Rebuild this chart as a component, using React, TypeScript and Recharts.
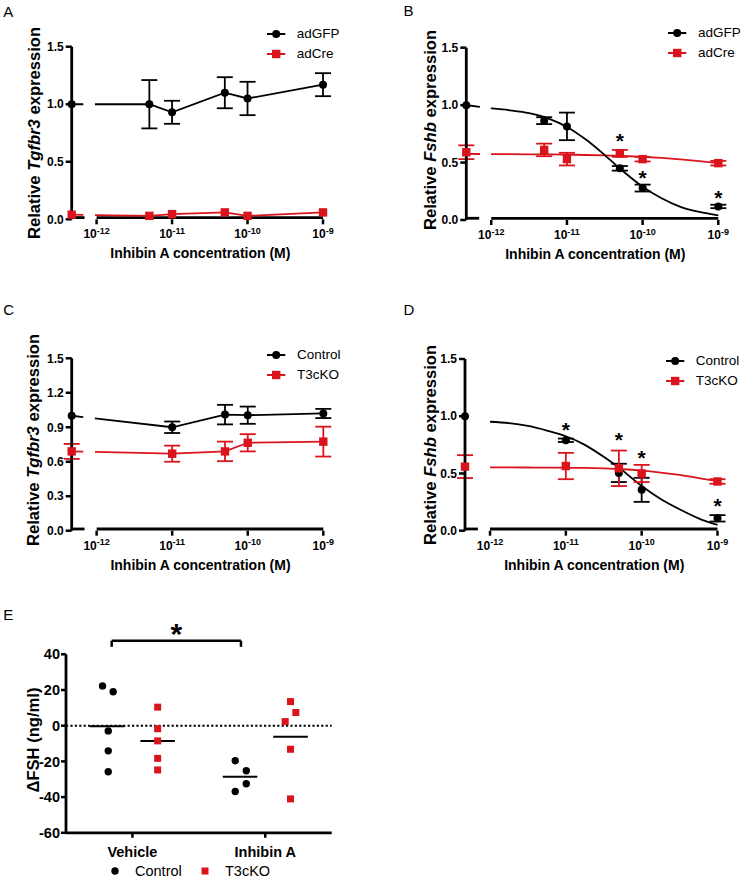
import React from 'react';
import { LineChart, Line, XAxis, YAxis, ErrorBar, ReferenceLine, ReferenceDot, Legend, Label } from 'recharts';

const FONT = '"Liberation Sans", Arial, Helvetica, sans-serif';
const BLACK = '#000000';
const RED = '#d9141c';

// ---------- shared concentration axis ----------
// axis unit = decades above 1e-13 M (1e-12 -> 1, 1e-9 -> 4); the vehicle control sits left of the axis break
const LOG_ORIGIN = -13;
const CONTROL_POS = 0.67;
const BREAK_END = 0.84;
const logTicks = [1, 2, 3, 4];
const AXIS_LEVEL = 0.015;

// ---------- Panel A : Tgfbr3, adGFP vs adCre ----------
const concA = [0, 5e-12, 1e-11, 5e-11, 1e-10, 1e-9];
const tgfbr3AdGFP = [1.0, 1.0, 0.93, 1.1, 1.05, 1.17];
const tgfbr3AdGFPSem = [0, 0.21, 0.1, 0.135, 0.145, 0.1];
const tgfbr3AdCre = [0.04, 0.03, 0.045, 0.06, 0.03, 0.06];
const tgfbr3AdCreSem = [0, 0, 0, 0, 0, 0];

// ---------- Panel B : Fshb, adGFP vs adCre ----------
const concB = [0, 5e-12, 1e-11, 5e-11, 1e-10, 1e-9];
const fshbAdGFP = [1.0, 0.865, 0.815, 0.45, 0.278, 0.118];
const fshbAdGFPSem = [0, 0.03, 0.12, 0.02, 0.03, 0.015];
const fshbAdCre = [0.59, 0.61, 0.53, 0.58, 0.53, 0.495];
const fshbAdCreSem = [0.06, 0.055, 0.055, 0.03, 0.02, 0.02];
const fitConcB = [0, 1e-12, 1.78e-12, 3.16e-12, 5.62e-12, 1e-11, 1.78e-11, 3.16e-11, 5.62e-11, 1e-10, 1.78e-10, 3.16e-10, 5.62e-10, 1e-9];
const fitAdGFPB = [1.0, 0.972, 0.955, 0.93, 0.885, 0.81, 0.7, 0.565, 0.42, 0.29, 0.19, 0.115, 0.07, 0.04];
const fitAdCreB = [0.575, 0.574, 0.573, 0.572, 0.571, 0.569, 0.566, 0.562, 0.557, 0.55, 0.54, 0.527, 0.512, 0.495];
const starConcB = [5e-11, 1e-10, 1e-9];
const starLevelB = [0.725, 0.405, 0.232];

// ---------- Panel C : Tgfbr3, Control vs T3cKO ----------
const concC = [0, 1e-11, 5e-11, 1e-10, 1e-9];
const tgfbr3Control = [1.0, 0.9, 1.01, 1.005, 1.02];
const tgfbr3ControlSem = [0, 0.05, 0.085, 0.075, 0.04];
const tgfbr3T3cKO = [0.69, 0.67, 0.69, 0.765, 0.775];
const tgfbr3T3cKOSem = [0.065, 0.07, 0.085, 0.075, 0.13];

// ---------- Panel D : Fshb, Control vs T3cKO ----------
const concD = [0, 1e-11, 5e-11, 1e-10, 1e-9];
const fshbControl = [1.0, 0.79, 0.505, 0.357, 0.108];
const fshbControlSem = [0, 0.015, 0.08, 0.105, 0.028];
const fshbT3cKO = [0.56, 0.565, 0.545, 0.5, 0.43];
const fshbT3cKOSem = [0.1, 0.115, 0.155, 0.075, 0.02];
const fitConcD = [1e-12, 1.78e-12, 3.16e-12, 5.62e-12, 1e-11, 1.78e-11, 3.16e-11, 5.62e-11, 1e-10, 1.78e-10, 3.16e-10, 5.62e-10, 1e-9];
const fitControlD = [0.952, 0.94, 0.915, 0.875, 0.825, 0.75, 0.645, 0.525, 0.39, 0.277, 0.187, 0.108, 0.05];
const fitT3cKOD = [0.553, 0.553, 0.552, 0.551, 0.55, 0.548, 0.544, 0.537, 0.525, 0.508, 0.487, 0.46, 0.432];
const starConcD = [1e-11, 5e-11, 1e-10, 1e-9];
const starLevelD = [0.925, 0.832, 0.677, 0.254];

// ---------- Panel E : delta FSH ----------
const categoriesE = ['Vehicle', 'Inhibin A'];
const groupsE = ['Control', 'T3cKO'];
const dFshVehicleControl = [22.3, 19.0, -2.9, -14.1, -25.8];
const dFshVehicleT3cKO = [10.4, -1.7, -8.5, -18.3, -24.8];
const dFshInhibinControl = [-19.6, -25.2, -32.5, -36.9];
const dFshInhibinT3cKO = [13.5, 7.4, 2.3, -13.2, -41.0];
const jitterVehicleControl = [-0.035, 0.045, 0.008, 0.008, 0.008];
const jitterVehicleT3cKO = [0, 0, 0, 0, 0];
const jitterInhibinControl = [-0.036, 0.047, 0.047, -0.036];
const jitterInhibinT3cKO = [0, 0.04, -0.04, 0, 0];

// ---------- helpers ----------
const toAxisPos = (c: number) => (c === 0 ? CONTROL_POS : Math.log10(c) - LOG_ORIGIN);
const toPoints = (conc: number[], mean: number[], sem: number[]) =>
  conc.map((c, i) => ({ x: toAxisPos(c), y: mean[i], e: sem[i] > 0 ? sem[i] : null }));
const toCurve = (conc: number[], ys: number[]) => conc.map((c, i) => ({ x: toAxisPos(c), y: ys[i] }));
const toStars = (conc: number[], lv: number[]) => conc.map((c, i) => ({ x: toAxisPos(c), y: lv[i] }));
const meanOf = (a: number[]) => a.reduce((s, v) => s + v, 0) / a.length;

const circleDot = (r: number, fill: string) => (p: any) => {
  if (p.cx == null || p.cy == null || isNaN(p.cx) || isNaN(p.cy)) return <g key={`n-${p.index}`} />;
  return <circle key={`c-${p.index}`} cx={p.cx} cy={p.cy} r={r} fill={fill} stroke="none" />;
};
const squareDot = (s: number, fill: string) => (p: any) => {
  if (p.cx == null || p.cy == null || isNaN(p.cx) || isNaN(p.cy)) return <g key={`n-${p.index}`} />;
  return <rect key={`s-${p.index}`} x={p.cx - s / 2} y={p.cy - s / 2} width={s} height={s} fill={fill} stroke="none" />;
};
const starShape = (fs: number) => (p: any) => (
  <text x={p.cx} y={p.cy} dy={fs * 0.56} textAnchor="middle" fontSize={fs} fontWeight={700} fontFamily={FONT} fill={BLACK}>
    *
  </text>
);

const LogTick = (props: any) => {
  const { x, y, payload } = props;
  return (
    <text x={x} y={y + 12} textAnchor="middle" fontFamily={FONT} fontWeight={700} fontSize={12} fill={BLACK}>
      <tspan>10</tspan>
      <tspan fontSize={9} dy={-4.5}>{String(Math.round(payload.value + LOG_ORIGIN))}</tspan>
    </text>
  );
};

const CatTick = (props: any) => {
  const { x, y, payload } = props;
  const label = categoriesE[Math.round(payload.value - 0.5)];
  return (
    <text x={x} y={y + 17.4} textAnchor="middle" fontFamily={FONT} fontWeight={700} fontSize={14.5} fill={BLACK}>
      {label}
    </text>
  );
};

const YTitle = (props: any) => {
  const { tx, ty, gene, plain } = props;
  return (
    <text x={tx} y={ty} transform={`rotate(-90 ${tx} ${ty})`} textAnchor="middle" fontFamily={FONT} fontWeight={700} fontSize={16.6} fill={BLACK}>
      {plain ? (
        plain
      ) : (
        <>
          <tspan>{'Relative '}</tspan>
          <tspan fontStyle="italic">{gene}</tspan>
          <tspan>{' expression'}</tspan>
        </>
      )}
    </text>
  );
};

const XTitle = (props: any) => {
  const { tx, ty } = props;
  return (
    <text x={tx} y={ty} textAnchor="middle" fontFamily={FONT} fontWeight={700} fontSize={14} fill={BLACK}>
      Inhibin A concentration (M)
    </text>
  );
};

const SeriesLegend = (props: any) => {
  const { items } = props;
  return (
    <div style={{ fontFamily: FONT, fontSize: 13.5, color: BLACK }}>
      {items.map((it: any) => (
        <div key={it.label} style={{ display: 'flex', alignItems: 'center', height: 20 }}>
          <svg width={30} height={12} style={{ flex: 'none', display: 'block' }}>
            <line x1={0} y1={6} x2={18.3} y2={6} stroke={it.color} strokeWidth={2} />
            {it.shape === 'circle' ? (
              <circle cx={9.2} cy={6} r={4} fill={it.color} />
            ) : (
              <rect x={5} y={1.8} width={8.4} height={8.4} fill={it.color} />
            )}
          </svg>
          <span style={{ lineHeight: '20px', whiteSpace: 'nowrap' }}>{it.label}</span>
        </div>
      ))}
    </div>
  );
};

type Group = { pts: any[]; color: string; shape: 'circle' | 'square'; connected: boolean; name: string };

function DosePanel(props: {
  left: number; top: number; width: number; height: number;
  plot: { l: number; r: number; t: number; b: number };
  xAxisH: number;
  yTicks: number[];
  gene: string;
  yTitle: { x: number; y: number };
  legend: { left: number; top: number };
  groups: Group[];
  curves: { pts: any[]; color: string }[];
  dash?: string;
  stars: { x: number; y: number }[];
}) {
  const { left, top, width, height, plot, xAxisH, yTicks, gene, yTitle, legend, groups, curves, dash, stars } = props;
  const margin = { top: plot.t, right: width - plot.r, bottom: height - plot.b - xAxisH, left: 0 };
  const items = groups.map((g) => ({ label: g.name, color: g.color, shape: g.shape }));
  return (
    <div style={{ position: 'absolute', left, top, width, height }}>
      <LineChart width={width} height={height} margin={margin} style={{ fontFamily: FONT }}>
        <XAxis
          type="number"
          dataKey="x"
          domain={[CONTROL_POS, 4]}
          ticks={logTicks}
          stroke={BLACK}
          axisLine={false}
          tickLine={{ stroke: BLACK, strokeWidth: 2.5 }}
          tickSize={5}
          height={xAxisH}
          tick={<LogTick />}
          interval={0}
        />
        <YAxis
          type="number"
          domain={[0, 1.5]}
          ticks={yTicks}
          width={plot.l}
          stroke={BLACK}
          axisLine={{ stroke: BLACK, strokeWidth: 2.8 }}
          tickLine={{ stroke: BLACK, strokeWidth: 2.5 }}
          tickSize={6}
          tickFormatter={(v: number) => v.toFixed(1)}
          tick={{ fill: BLACK, fontSize: 12, fontWeight: 700, fontFamily: FONT }}
          interval={0}
        >
          <Label content={<YTitle tx={yTitle.x} ty={yTitle.y} gene={gene} />} />
          <Label content={<XTitle tx={(plot.l + plot.r) / 2 + 3} ty={plot.b + 39} />} />
        </YAxis>
        <Line
          data={[{ x: CONTROL_POS, y: AXIS_LEVEL }, { x: BREAK_END, y: AXIS_LEVEL }]}
          dataKey="y"
          stroke={BLACK}
          strokeWidth={2.8}
          dot={false}
          activeDot={false}
          legendType="none"
          isAnimationActive={false}
        />
        <Line
          data={[{ x: 1, y: AXIS_LEVEL }, { x: 4, y: AXIS_LEVEL }]}
          dataKey="y"
          stroke={BLACK}
          strokeWidth={2.8}
          dot={false}
          activeDot={false}
          legendType="none"
          isAnimationActive={false}
        />
        {curves.map((c, i) => (
          <Line
            key={`curve-${i}`}
            data={c.pts}
            dataKey="y"
            type="monotone"
            stroke={c.color}
            strokeWidth={1.8}
            strokeDasharray={dash}
            dot={false}
            activeDot={false}
            legendType="none"
            isAnimationActive={false}
          />
        ))}
        {groups.map((g, i) => (
          <Line
            key={`grp-${i}`}
            name={g.name}
            data={g.pts}
            dataKey="y"
            type="linear"
            stroke={g.connected ? g.color : 'none'}
            strokeWidth={1.8}
            strokeDasharray={g.connected ? dash : undefined}
            dot={g.shape === 'circle' ? circleDot(4, g.color) : squareDot(8.4, g.color)}
            activeDot={false}
            isAnimationActive={false}
          >
            <ErrorBar dataKey="e" width={8} strokeWidth={1.8} stroke={g.color} direction="y" />
          </Line>
        ))}
        {stars.map((s, i) => (
          <ReferenceDot key={`star-${i}`} x={s.x} y={s.y} r={0} ifOverflow="visible" shape={starShape(21)} />
        ))}
        <Legend
          layout="vertical"
          align="center"
          verticalAlign="middle"
          wrapperStyle={{ left: legend.left, top: legend.top, width: 90, height: 40 }}
          content={() => <SeriesLegend items={items} />}
        />
      </LineChart>
    </div>
  );
}

const PanelLetter = ({ text, x, baseline }: { text: string; x: number; baseline: number }) => (
  <div style={{ position: 'absolute', left: x, top: baseline - 12.7, fontFamily: FONT, fontSize: 15, lineHeight: '15px', color: BLACK }}>
    {text}
  </div>
);

function PanelE() {
  const width = 371;
  const height = 299;
  const plot = { l: 66, r: 331.7, t: 74.3, b: 252.8 };
  const xAxisH = 30;
  const margin = { top: plot.t, right: width - plot.r, bottom: height - plot.b - xAxisH, left: 0 };
  const ctrlOff = -0.19;
  const koOff = 0.19;
  const mk = (vals: number[], jit: number[], center: number) => vals.map((v, i) => ({ x: center + jit[i], y: v }));
  const vc = mk(dFshVehicleControl, jitterVehicleControl, 0.5 + ctrlOff);
  const vk = mk(dFshVehicleT3cKO, jitterVehicleT3cKO, 0.5 + koOff);
  const ic = mk(dFshInhibinControl, jitterInhibinControl, 1.5 + ctrlOff);
  const ik = mk(dFshInhibinT3cKO, jitterInhibinT3cKO, 1.5 + koOff);
  const means = [
    { c: 0.5 + ctrlOff, m: meanOf(dFshVehicleControl) },
    { c: 0.5 + koOff, m: meanOf(dFshVehicleT3cKO) },
    { c: 1.5 + ctrlOff, m: meanOf(dFshInhibinControl) },
    { c: 1.5 + koOff, m: meanOf(dFshInhibinT3cKO) },
  ];
  const hw = 0.13;
  const br = { from: 0.344, to: 1.317, top: 47.6, leg: 44.2, star: 55.4 };
  return (
    <div style={{ position: 'absolute', left: 0, top: 580, width, height }}>
      <LineChart width={width} height={height} margin={margin} style={{ fontFamily: FONT }}>
        <XAxis
          type="number"
          dataKey="x"
          domain={[0, 2]}
          ticks={[0.5, 1.5]}
          stroke={BLACK}
          axisLine={{ stroke: BLACK, strokeWidth: 2.8 }}
          tickLine={{ stroke: BLACK, strokeWidth: 2.5 }}
          tickSize={5}
          height={xAxisH}
          tick={<CatTick />}
          interval={0}
        />
        <YAxis
          type="number"
          domain={[-60, 40]}
          ticks={[-60, -40, -20, 0, 20, 40]}
          width={plot.l}
          stroke={BLACK}
          axisLine={{ stroke: BLACK, strokeWidth: 2.8 }}
          tickLine={{ stroke: BLACK, strokeWidth: 2.5 }}
          tickSize={5}
          tickMargin={1}
          tick={{ fill: BLACK, fontSize: 14.5, fontWeight: 700, fontFamily: FONT }}
          interval={0}
          label={<YTitle tx={39} ty={160} plain={'\u0394FSH (ng/ml)'} />}
        />
        <ReferenceLine y={0} stroke={BLACK} strokeWidth={2} strokeDasharray="2.2 2.2" />
        {means.map((mm, i) => (
          <ReferenceLine key={`mean-${i}`} segment={[{ x: mm.c - hw, y: mm.m }, { x: mm.c + hw, y: mm.m }]} stroke={BLACK} strokeWidth={2} ifOverflow="visible" />
        ))}
        <ReferenceLine segment={[{ x: br.from, y: br.top }, { x: br.to, y: br.top }]} stroke={BLACK} strokeWidth={2.5} ifOverflow="visible" />
        <ReferenceLine segment={[{ x: br.from, y: br.top }, { x: br.from, y: br.leg }]} stroke={BLACK} strokeWidth={2.5} ifOverflow="visible" />
        <ReferenceLine segment={[{ x: br.to, y: br.top }, { x: br.to, y: br.leg }]} stroke={BLACK} strokeWidth={2.5} ifOverflow="visible" />
        <ReferenceDot x={(br.from + br.to) / 2} y={br.star} r={0} ifOverflow="visible" shape={starShape(30)} />
        <Line data={vc} dataKey="y" stroke="none" dot={circleDot(3.7, BLACK)} activeDot={false} isAnimationActive={false} name={groupsE[0]} />
        <Line data={vk} dataKey="y" stroke="none" dot={squareDot(7, RED)} activeDot={false} isAnimationActive={false} name={groupsE[1]} />
        <Line data={ic} dataKey="y" stroke="none" dot={circleDot(3.7, BLACK)} activeDot={false} isAnimationActive={false} legendType="none" />
        <Line data={ik} dataKey="y" stroke="none" dot={squareDot(7, RED)} activeDot={false} isAnimationActive={false} legendType="none" />
        <Legend
          layout="vertical"
          align="center"
          verticalAlign="middle"
          wrapperStyle={{ left: 111, top: 280.7, width: 200, height: 20 }}
          content={() => (
            <div style={{ position: 'relative', width: 200, height: 20, fontFamily: FONT, fontSize: 14.5, color: BLACK }}>
              <svg width={8} height={8} style={{ position: 'absolute', left: 0, top: 6, display: 'block' }}>
                <circle cx={4} cy={4} r={3.7} fill={BLACK} />
              </svg>
              <span style={{ position: 'absolute', left: 24, top: 0, lineHeight: '20px', whiteSpace: 'nowrap' }}>{groupsE[0]}</span>
              <svg width={8} height={8} style={{ position: 'absolute', left: 89.5, top: 6, display: 'block' }}>
                <rect x={0.5} y={0.5} width={7} height={7} fill={RED} />
              </svg>
              <span style={{ position: 'absolute', left: 114, top: 0, lineHeight: '20px', whiteSpace: 'nowrap' }}>{groupsE[1]}</span>
            </div>
          )}
        />
      </LineChart>
    </div>
  );
}

export default function App() {
  const ticks15 = [0, 0.5, 1.0, 1.5];
  const ticks03 = [0, 0.3, 0.6, 0.9, 1.2, 1.5];
  return (
    <div style={{ position: 'absolute', left: 0, top: 0, width: 742, height: 879, background: '#ffffff', fontFamily: FONT, overflow: 'hidden' }}>
      <DosePanel
        left={0} top={0} width={371} height={290}
        plot={{ l: 71.7, r: 323, t: 46.7, b: 219.3 }}
        xAxisH={50}
        yTicks={ticks15}
        gene="Tgfbr3"
        yTitle={{ x: 40, y: 133 }}
        legend={{ left: 266.7, top: 24.3 }}
        groups={[
          { name: 'adGFP', pts: toPoints(concA, tgfbr3AdGFP, tgfbr3AdGFPSem), color: BLACK, shape: 'circle', connected: true },
          { name: 'adCre', pts: toPoints(concA, tgfbr3AdCre, tgfbr3AdCreSem), color: RED, shape: 'square', connected: true },
        ]}
        curves={[]}
        dash="11.6 11.7 4000"
        stars={[]}
      />
      <DosePanel
        left={371} top={0} width={371} height={290}
        plot={{ l: 95.3, r: 347.3, t: 47.7, b: 220 }}
        xAxisH={50}
        yTicks={ticks15}
        gene="Fshb"
        yTitle={{ x: 65, y: 130 }}
        legend={{ left: 297, top: 23.3 }}
        groups={[
          { name: 'adGFP', pts: toPoints(concB, fshbAdGFP, fshbAdGFPSem), color: BLACK, shape: 'circle', connected: false },
          { name: 'adCre', pts: toPoints(concB, fshbAdCre, fshbAdCreSem), color: RED, shape: 'square', connected: false },
        ]}
        curves={[
          { pts: toCurve(fitConcB, fitAdCreB), color: RED },
          { pts: toCurve(fitConcB, fitAdGFPB), color: BLACK },
        ]}
        dash="13.7 11 4000"
        stars={toStars(starConcB, starLevelB)}
      />
      <DosePanel
        left={0} top={290} width={371} height={290}
        plot={{ l: 71.7, r: 323.3, t: 68.3, b: 240.7 }}
        xAxisH={45}
        yTicks={ticks03}
        gene="Tgfbr3"
        yTitle={{ x: 39, y: 150 }}
        legend={{ left: 267, top: 55 }}
        groups={[
          { name: 'Control', pts: toPoints(concC, tgfbr3Control, tgfbr3ControlSem), color: BLACK, shape: 'circle', connected: true },
          { name: 'T3cKO', pts: toPoints(concC, tgfbr3T3cKO, tgfbr3T3cKOSem), color: RED, shape: 'square', connected: true },
        ]}
        curves={[]}
        dash="11.6 11.7 4000"
        stars={[]}
      />
      <DosePanel
        left={371} top={290} width={371} height={290}
        plot={{ l: 94, r: 346.5, t: 69, b: 240.7 }}
        xAxisH={45}
        yTicks={ticks15}
        gene="Fshb"
        yTitle={{ x: 65, y: 155 }}
        legend={{ left: 294.7, top: 61 }}
        groups={[
          { name: 'Control', pts: toPoints(concD, fshbControl, fshbControlSem), color: BLACK, shape: 'circle', connected: false },
          { name: 'T3cKO', pts: toPoints(concD, fshbT3cKO, fshbT3cKOSem), color: RED, shape: 'square', connected: false },
        ]}
        curves={[
          { pts: toCurve(fitConcD, fitT3cKOD), color: RED },
          { pts: toCurve(fitConcD, fitControlD), color: BLACK },
        ]}
        stars={toStars(starConcD, starLevelD)}
      />
      <PanelE />
      <PanelLetter text="A" x={3.3} baseline={16.5} />
      <PanelLetter text="B" x={403.5} baseline={15.5} />
      <PanelLetter text="C" x={3.3} baseline={315} />
      <PanelLetter text="D" x={403.5} baseline={315} />
      <PanelLetter text="E" x={3.3} baseline={620} />
    </div>
  );
}
